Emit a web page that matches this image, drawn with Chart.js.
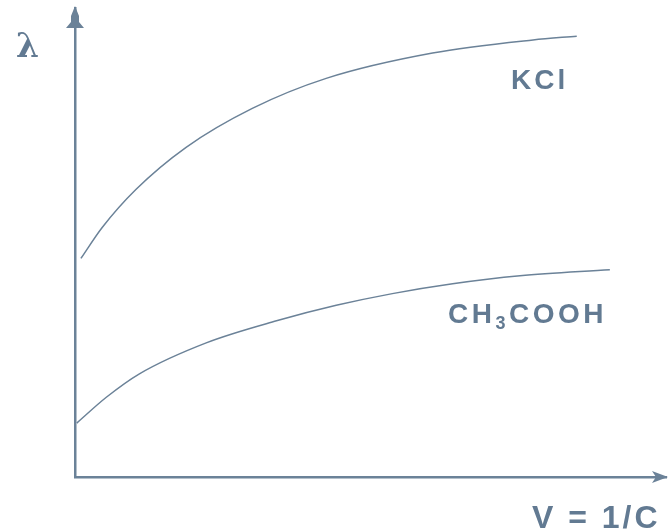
<!DOCTYPE html>
<html>
<head>
<meta charset="utf-8">
<script src="https://cdn.jsdelivr.net/npm/chart.js@4.4.1/dist/chart.umd.min.js"></script>
<style>
  html, body { margin: 0; padding: 0; background: #fff; }
  #wrap { width: 668px; height: 531px; }
</style>
</head>
<body>
<div id="wrap"><canvas id="chart" width="668" height="531"></canvas></div>
<script>
// values, axes in arbitrary units 0..100
const kclX = [1, 4.6, 10.3, 18.8, 30, 42.5, 60.5, 77.5, 84.9];
const kclY = [46.6, 53.2, 61.3, 70.3, 78.6, 85, 90.4, 93.2, 94];
const acidX = [0.3, 5.3, 10.9, 22.2, 34.1, 44.2, 53.7, 63.9, 75.3, 90.5];
const acidY = [11.5, 17, 22, 28.6, 33.3, 36.6, 39.1, 41.2, 42.9, 44.2];
const seriesNames = ['KCl', 'CH3COOH'];

const ink = '#6b8298';
const textInk = '#627a92';

function toPoints(xs, ys) {
  return xs.map((x, i) => ({ x: x, y: ys[i] }));
}

// arrowheads and the hand-placed labels
const decorPlugin = {
  id: 'decor',
  afterDraw(chart) {
    const ctx = chart.ctx;
    const a = chart.chartArea;
    ctx.save();
    ctx.fillStyle = ink;

    // y axis arrow
    const ax = a.left;
    ctx.beginPath();
    ctx.moveTo(ax, a.top - 2);
    ctx.lineTo(ax + 4, a.top + 8);
    ctx.lineTo(ax + 4, a.top + 14);
    ctx.lineTo(ax + 9, a.top + 20);
    ctx.lineTo(ax - 9, a.top + 20);
    ctx.lineTo(ax - 4, a.top + 14);
    ctx.lineTo(ax - 4, a.top + 8);
    ctx.closePath();
    ctx.fill();

    // x axis arrow
    const ay = a.bottom;
    ctx.beginPath();
    ctx.moveTo(668, ay);
    ctx.lineTo(652, ay - 6);
    ctx.lineTo(656, ay);
    ctx.lineTo(652, ay + 6);
    ctx.closePath();
    ctx.fill();

    ctx.fillStyle = textInk;
    ctx.textBaseline = 'alphabetic';
    ctx.font = 'bold 33px "DejaVu Serif"';
    ctx.fillText('λ', 16, 57);

    ctx.font = 'bold 28px "Liberation Sans"';
    ctx.letterSpacing = '3px';
    ctx.fillText('KCl', 511, 89);

    // CH3COOH with subscript
    ctx.letterSpacing = '3.5px';
    let x = 448;
    ctx.fillText('CH', x, 323);
    x += ctx.measureText('CH').width;
    ctx.font = 'bold 18px "Liberation Sans"';
    ctx.fillText('3', x, 329);
    x += ctx.measureText('3').width;
    ctx.font = 'bold 28px "Liberation Sans"';
    ctx.fillText('COOH', x, 323);

    ctx.font = 'bold 32px "Liberation Sans"';
    ctx.letterSpacing = '3px';
    ctx.fillText('V = 1/C', 532, 528);
    ctx.restore();
  }
};

new Chart(document.getElementById('chart'), {
  type: 'line',
  data: {
    datasets: [
      {
        label: seriesNames[0],
        data: toPoints(kclX, kclY),
        borderColor: ink,
        borderWidth: 1.5,
        pointRadius: 0,
        cubicInterpolationMode: 'monotone',
        fill: false
      },
      {
        label: seriesNames[1],
        data: toPoints(acidX, acidY),
        borderColor: ink,
        borderWidth: 1.5,
        pointRadius: 0,
        cubicInterpolationMode: 'monotone',
        fill: false
      }
    ]
  },
  options: {
    responsive: false,
    animation: false,
    layout: { padding: { left: 75, top: 8, right: 2, bottom: 54 } },
    plugins: {
      legend: { display: false },
      tooltip: { enabled: false }
    },
    scales: {
      x: {
        type: 'linear',
        min: 0,
        max: 100,
        ticks: { display: false },
        grid: { display: false, drawTicks: false },
        border: { display: true, color: ink, width: 2.5 }
      },
      y: {
        type: 'linear',
        min: 0,
        max: 100,
        ticks: { display: false },
        grid: { display: false, drawTicks: false },
        border: { display: true, color: ink, width: 2.5 }
      }
    }
  },
  plugins: [decorPlugin]
});
</script>
</body>
</html>
